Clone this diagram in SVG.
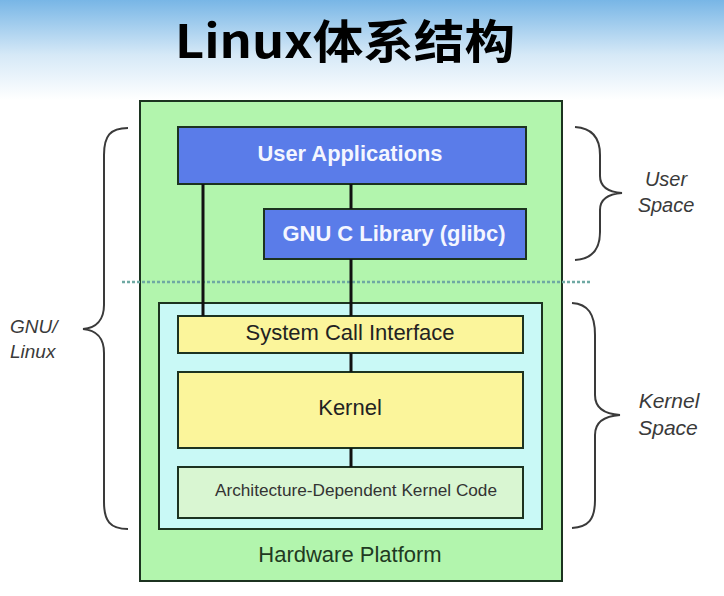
<svg xmlns="http://www.w3.org/2000/svg" width="724" height="596" viewBox="0 0 724 596">
<defs>
<linearGradient id="sky" x1="0" y1="0" x2="0" y2="1">
<stop offset="0" stop-color="#78b6e6"/>
<stop offset="0.55" stop-color="#d6e9f7"/>
<stop offset="1" stop-color="#ffffff"/>
</linearGradient>
</defs>
<style>
.box{stroke:#1c3320;stroke-width:2}
.lbl{font-family:"Liberation Sans",Arial,sans-serif;text-anchor:middle;font-size:22px}
.side{font-family:"Liberation Sans",Arial,sans-serif;font-style:italic;font-size:19px;fill:#3a3a3a}
.brace{fill:none;stroke:#3a3a3a;stroke-width:2}
.conn{stroke:#111;stroke-width:3}
</style>
<rect x="0" y="0" width="724" height="596" fill="#ffffff"/>
<rect x="0" y="0" width="724" height="100" fill="url(#sky)"/>
<text x="345" y="58" font-family="'Noto Sans CJK SC','Noto Sans',sans-serif" font-weight="bold" font-size="46" text-anchor="middle" fill="#000" textLength="340" lengthAdjust="spacingAndGlyphs">Linux体系结构</text>

<g id="hardware">
<rect class="box" x="140" y="101" width="422" height="480" fill="#b2f5ad"/>
<text class="lbl" x="350" y="562" fill="#1f3a22">Hardware Platform</text>
</g>
<line x1="122" y1="282" x2="590" y2="282" stroke="#6fa9a3" stroke-width="2.5" stroke-dasharray="3,2"/>
<g id="kernel-space">
<rect class="box" x="159" y="303" width="383" height="226" fill="#c9f9f6"/>
</g>
<g id="user-apps">
<rect class="box" x="178" y="127" width="348" height="57" fill="#5a7ce9"/>
<text class="lbl" x="350" y="161" font-weight="bold" fill="#f4f6ff" textLength="185" lengthAdjust="spacingAndGlyphs">User Applications</text>
</g>
<g id="glibc">
<rect class="box" x="264" y="209" width="262" height="50" fill="#5a7ce9"/>
<text class="lbl" x="394" y="241" font-weight="bold" fill="#f4f6ff" textLength="223" lengthAdjust="spacingAndGlyphs">GNU C Library (glibc)</text>
</g>
<g id="sci">
<rect class="box" x="178" y="316" width="345" height="37" fill="#fbf59b"/>
<text class="lbl" x="350" y="340" fill="#222">System Call Interface</text>
</g>
<g id="kernel">
<rect class="box" x="178" y="372" width="345" height="76" fill="#fbf59b"/>
<text class="lbl" x="350" y="415" fill="#222">Kernel</text>
</g>
<g id="arch">
<rect class="box" x="178" y="467" width="345" height="51" fill="#d9f6d2"/>
<text class="lbl" x="356" y="496" font-size="16" fill="#333" style="font-size:16px" textLength="282" lengthAdjust="spacingAndGlyphs">Architecture-Dependent Kernel Code</text>
</g>
<g id="connectors">
<line class="conn" x1="203" y1="184" x2="203" y2="316"/>
<line class="conn" x1="351" y1="184" x2="351" y2="209"/>
<line class="conn" x1="351" y1="259" x2="351" y2="316"/>
<line class="conn" x1="351" y1="353" x2="351" y2="372"/>
<line class="conn" x1="351" y1="448" x2="351" y2="467"/>
</g>
<g id="gnu-linux">
<path class="brace" d="M128,128 C110,128 104,136 104,155 L104,305 C104,320 96,328 83,329 C96,330 104,338 104,353 L104,502 C104,521 110,529 128,529"/>
<text class="side" x="10" y="333">GNU/</text>
<text class="side" x="10" y="358">Linux</text>
</g>
<g id="user-space">
<path class="brace" d="M575,127 C592,128 600,138 600,155 L600,176 C600,187 608,192 622,193 C608,194 600,199 600,210 L600,232 C600,250 592,259 575,260"/>
<text class="side" x="666" y="186" text-anchor="middle" style="font-size:20px">User</text>
<text class="side" x="666" y="212" text-anchor="middle" style="font-size:20px">Space</text>
</g>
<g id="kernel-space-brace">
<path class="brace" d="M572,303 C588,304 595,314 595,335 L595,395 C595,408 604,414 620,415 C604,416 595,422 595,435 L595,500 C595,520 588,527 572,528"/>
<text class="side" x="669" y="408" text-anchor="middle" style="font-size:21px">Kernel</text>
<text class="side" x="668" y="435" text-anchor="middle" style="font-size:21px">Space</text>
</g>
</svg>
